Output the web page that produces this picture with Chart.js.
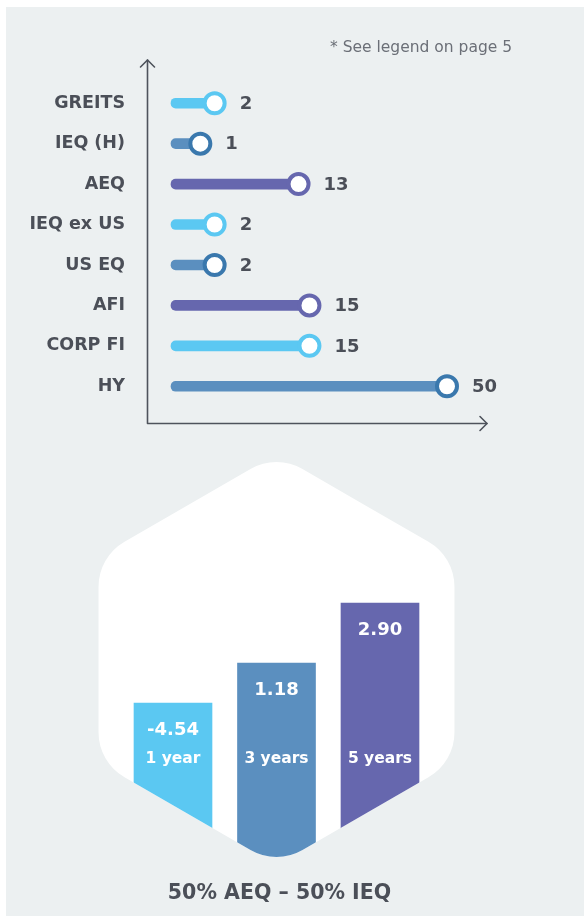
<!DOCTYPE html>
<html>
<head>
<meta charset="utf-8">
<script src="https://cdn.jsdelivr.net/npm/chart.js@4.4.1/dist/chart.umd.min.js"></script>
<style>
  html, body { margin: 0; padding: 0; background: #ffffff; }
  #page { position: relative; width: 584px; height: 916px; overflow: hidden; background: #ffffff; }
  #panel { position: absolute; left: 6px; top: 7px; right: 0; bottom: 0; background: #ECF0F1; }
  #top { position: absolute; left: 0; top: 0; }
  #bottom { position: absolute; left: 0; top: 440px; }
</style>
</head>
<body>
<div id="page">
  <div id="panel"></div>
  <canvas id="bottom" width="584" height="476"></canvas>
  <canvas id="top" width="584" height="455"></canvas>
</div>
<script>
// ---------- DATA ----------
const categories = ['GREITS', 'IEQ (H)', 'AEQ', 'IEQ ex US', 'US EQ', 'AFI', 'CORP FI', 'HY'];
const allocations = [2, 1, 13, 2, 2, 15, 15, 50];
const footnote = '* See legend on page 5';

const periods = ['1 year', '3 years', '5 years'];
const returns = [-4.54, 1.18, 2.90];
// bar heights as drawn in the picture (arbitrary units; not proportional to the returns)
const barHeights = [5.4, 6.73, 8.73];
const caption = '50% AEQ \u2013 50% IEQ';

// ---------- STYLES ----------
const FONT = '"DejaVu Sans", Verdana, sans-serif';
const TEXT = '#4B4F58';
const LIGHT = '#5BC8F2', MID = '#5B8FBF', MID_DARK = '#3A78AD', PURPLE = '#6667AE';
const rowLine = [LIGHT, MID, PURPLE, LIGHT, MID, PURPLE, LIGHT, MID];
const rowRing = [LIGHT, MID_DARK, PURPLE, LIGHT, MID_DARK, PURPLE, LIGHT, MID_DARK];
const barColors = [LIGHT, MID, PURPLE];

// ---------- power scale (matches the picture's compressed lengths) ----------
class PowScale extends Chart.LinearScale {
  _t(v) { const p = this.options.exponent || 0.5; return Math.sign(v) * Math.pow(Math.abs(v), p); }
  getPixelForValue(value) {
    const a = this._t(this.min), b = this._t(this.max);
    return this.getPixelForDecimal((this._t(value) - a) / (b - a));
  }
  getValueForPixel(pixel) {
    const p = this.options.exponent || 0.5;
    const a = this._t(this.min), b = this._t(this.max);
    const t = a + this.getDecimalForPixel(pixel) * (b - a);
    return Math.sign(t) * Math.pow(Math.abs(t), 1 / p);
  }
}
PowScale.id = 'pow';
PowScale.defaults = Chart.LinearScale.defaults;
Chart.register(PowScale);

// ---------- TOP: lollipop chart ----------
const topDecor = {
  id: 'topDecor',
  afterDraw(chart) {
    const { ctx, chartArea } = chart;
    const ax = chartArea.left - 23.5, yTop = 60, yBot = chartArea.bottom + 17, xRight = 487;
    ctx.save();
    ctx.strokeStyle = '#4E535C';
    ctx.lineWidth = 1.6;
    ctx.lineCap = 'round';
    ctx.lineJoin = 'round';
    ctx.beginPath();
    ctx.moveTo(ax, yTop); ctx.lineTo(ax, yBot); ctx.lineTo(xRight, yBot);
    ctx.stroke();
    ctx.beginPath();
    ctx.moveTo(ax - 7, yTop + 7); ctx.lineTo(ax, yTop); ctx.lineTo(ax + 7, yTop + 7);
    ctx.moveTo(xRight - 7, yBot - 7); ctx.lineTo(xRight, yBot); ctx.lineTo(xRight - 7, yBot + 7);
    ctx.stroke();
    // footnote
    ctx.fillStyle = '#6B6F77';
    ctx.font = '15.5px ' + FONT;
    ctx.textBaseline = 'middle';
    ctx.textAlign = 'left';
    ctx.fillText(footnote, 330, 48);
    // value labels
    const meta = chart.getDatasetMeta(1);
    ctx.fillStyle = TEXT;
    ctx.font = 'bold 18px ' + FONT;
    meta.data.forEach((pt, i) => {
      ctx.fillText(String(allocations[i]), pt.x + 25, pt.y + 1);
    });
    ctx.restore();
  }
};

new Chart(document.getElementById('top'), {
  type: 'bar',
  data: {
    labels: categories,
    datasets: [
      {
        type: 'bar',
        order: 2,
        data: allocations.map(v => [0, v]),
        backgroundColor: rowLine,
        barThickness: 10,
        borderRadius: 5,
        borderSkipped: false,
        clip: false
      },
      {
        type: 'line',
        order: 1,
        indexAxis: 'y',
        data: allocations.map((v, i) => ({ x: v, y: categories[i] })),
        showLine: false,
        pointRadius: 10,
        pointBorderWidth: 4,
        pointBackgroundColor: '#ffffff',
        pointBorderColor: rowRing,
        clip: false
      }
    ]
  },
  options: {
    indexAxis: 'y',
    responsive: false,
    animation: false,
    events: [],
    layout: { padding: { top: 83, bottom: 24.5, left: 0, right: 137 } },
    plugins: { legend: { display: false }, tooltip: { enabled: false } },
    scales: {
      x: { type: 'pow', exponent: 0.573, min: 0, max: 50, display: false },
      y: {
        type: 'category',
        position: 'left',
        offset: true,
        grid: { display: false },
        border: { display: false },
        ticks: { color: TEXT, font: { family: FONT, size: 17.5, weight: 'bold' }, padding: 38 },
        afterFit(scale) { scale.width = 171; }
      }
    }
  },
  plugins: [topDecor]
});

// ---------- BOTTOM: hexagon bars ----------
function hexPath(ctx, cx, cy, R, r) {
  const pts = [];
  for (let k = 0; k < 6; k++) {
    const a = (-90 + 60 * k) * Math.PI / 180;
    pts.push([cx + R * Math.cos(a), cy + R * Math.sin(a)]);
  }
  ctx.beginPath();
  const m0 = [(pts[0][0] + pts[1][0]) / 2, (pts[0][1] + pts[1][1]) / 2];
  ctx.moveTo(m0[0], m0[1]);
  for (let k = 1; k <= 6; k++) {
    const p = pts[k % 6], n = pts[(k + 1) % 6];
    ctx.arcTo(p[0], p[1], n[0], n[1], r);
  }
  ctx.closePath();
}

const hexDecor = {
  id: 'hexDecor',
  _geom(chart) {
    const x = chart.scales.x, y = chart.scales.y;
    const cx = x.getPixelForValue(1);
    const yb = y.getPixelForValue(0);
    const R = 205.5;
    return { cx, cy: yb - R, R, yb };
  },
  beforeDatasetsDraw(chart) {
    const { ctx } = chart;
    const g = this._geom(chart);
    ctx.save();
    hexPath(ctx, g.cx, g.cy, g.R, 52);
    ctx.fillStyle = '#ffffff';
    ctx.fill();
    ctx.clip();
  },
  afterDatasetsDraw(chart) {
    const { ctx } = chart;
    ctx.restore();
    const g = this._geom(chart);
    const meta = chart.getDatasetMeta(0);
    ctx.save();
    ctx.fillStyle = '#ffffff';
    ctx.textAlign = 'center';
    ctx.textBaseline = 'middle';
    meta.data.forEach((bar, i) => {
      ctx.font = 'bold 18px ' + FONT;
      ctx.fillText(returns[i].toFixed(2), bar.x, bar.y + 27);
      ctx.font = 'bold 15.5px ' + FONT;
      ctx.fillText(periods[i], bar.x, g.yb - 106);
    });
    ctx.fillStyle = TEXT;
    ctx.font = 'bold 20.5px ' + FONT;
    ctx.fillText(caption, g.cx + 3, g.yb + 29);
    ctx.restore();
  }
};

new Chart(document.getElementById('bottom'), {
  type: 'bar',
  data: {
    labels: periods,
    datasets: [{
      data: barHeights.map(h => [0, h]),
      backgroundColor: barColors,
      barThickness: 78,
      borderSkipped: false,
      borderRadius: 0
    }]
  },
  options: {
    responsive: false,
    animation: false,
    events: [],
    layout: { padding: { top: 125, bottom: 51, left: 121.25, right: 152.25 } },
    plugins: { legend: { display: false }, tooltip: { enabled: false } },
    scales: {
      x: { type: 'category', offset: true, display: false },
      y: { type: 'linear', min: 0, max: 10, display: false }
    }
  },
  plugins: [hexDecor]
});
</script>
</body>
</html>
